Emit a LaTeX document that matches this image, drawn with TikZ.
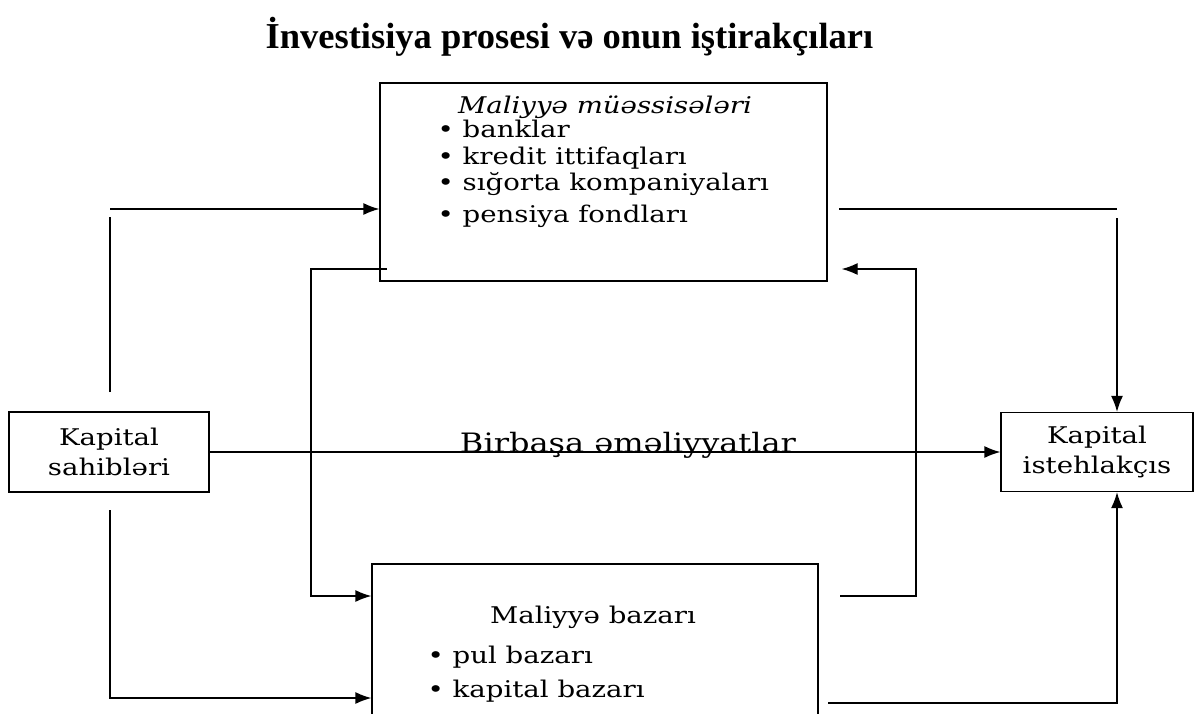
\documentclass[tikz,border=0pt]{standalone}
\usepackage{fontspec}
\setmainfont{DejaVu Serif}[FakeStretch=1.2]
\newfontfamily\titlefont{Liberation Serif}
\usetikzlibrary{arrows.meta}

\begin{document}
\begin{tikzpicture}[x=1pt, y=-1pt, line width=1.3pt,
		font=\fontsize{23}{30}\selectfont,
		box/.style={draw, rectangle, inner sep=0pt},
		txt/.style={inner sep=0pt, anchor=base west},
		arr/.style={-{Latex[length=16pt,width=12pt]}}]
		\path[use as bounding box, clip] (0,0) rectangle (1195,713);
		% Überschrift
		\node[txt] (titel) at (265,48) {\titlefont\bfseries\fontsize{36.5}{40}\selectfont İnvestisiya prosesi və onun iştirakçıları};
		% Kästen
		\node[box, minimum width=447pt, minimum height=198pt] (inst) at (603.5,182) {};
		\node[box, minimum width=446pt, minimum height=200pt] (bazar) at (595,664) {};
		\node[box, minimum width=200pt, minimum height=80pt, align=center] (sahib) at (109,452) {Kapital\\sahibləri};
		\node[box, minimum width=192pt, minimum height=79pt, align=center] (istehlak) at (1097,452) {Kapital\\istehlakçıs};
		% Maliyyə müəssisələri
		\node[anchor=base, inner sep=0pt] (instkopf) at (605,113) {\itshape Maliyyə müəssisələri};
		\node[txt] (bank) at (437,137) {• banklar};
		\node[txt] (kredit) at (437,164) {• kredit ittifaqları};
		\node[txt] (sigorta) at (437,190) {• sığorta kompaniyaları};
		\node[txt] (pensiya) at (437,222) {• pensiya fondları};
		% Maliyyə bazarı
		\node[anchor=base, inner sep=0pt] (bazarkopf) at (593,623) {Maliyyə bazarı};
		\node[txt] (pul) at (427,663) {• pul bazarı};
		\node[txt] (kapbazar) at (427,697) {• kapital bazarı};
		% Kapital sahibləri -> Maliyyə müəssisələri
		\coordinate (su1) at (110,392);
		\coordinate (su2) at (110,217);
		\coordinate (su3) at (110,209);
		\draw (su1) -- (su2);
		\draw[arr] (su3) -- (inst.west |- su3);
		% Maliyyə müəssisələri -> Maliyyə bazarı
		\coordinate (mu1) at (387,269);
		\coordinate (mu2) at (311,269);
		\coordinate (mu3) at (311,596);
		\draw[arr] (mu1) -- (mu2) -- (mu3) -- (bazar.west |- mu3);
		% Kapital sahibləri -> Maliyyə bazarı
		\coordinate (sd1) at (110,510);
		\coordinate (sd2) at (110,698);
		\draw[arr] (sd1) -- (sd2) -- (bazar.west |- sd2);
		% Maliyyə müəssisələri -> Kapital istehlakçıs
		\coordinate (iu1) at (839,209);
		\coordinate (iu2) at (1117,209);
		\coordinate (iu3) at (1117,218);
		\draw (iu1) -- (iu2);
		\draw[arr] (iu3) -- (istehlak.north -| iu3);
		% Maliyyə bazarı -> Maliyyə müəssisələri
		\coordinate (bm1) at (840,596);
		\coordinate (bm2) at (916,596);
		\coordinate (bm3) at (916,269);
		\draw[arr, shorten >=14pt] (bm1) -- (bm2) -- (bm3) -- (inst.east |- bm3);
		% Maliyyə bazarı -> Kapital istehlakçıs
		\coordinate (bi1) at (828,703);
		\coordinate (bi2) at (1117,703);
		\draw[arr] (bi1) -- (bi2) -- (istehlak.south -| bi2);
		% Birbaşa əməliyyatlar
		\draw[arr] (sahib.east) -- (istehlak.west);
		\node[anchor=base, inner sep=0pt] (direkt) at (628,452) {\fontsize{26.7}{30}\selectfont Birbaşa əməliyyatlar};
	\end{tikzpicture}
\end{document}
